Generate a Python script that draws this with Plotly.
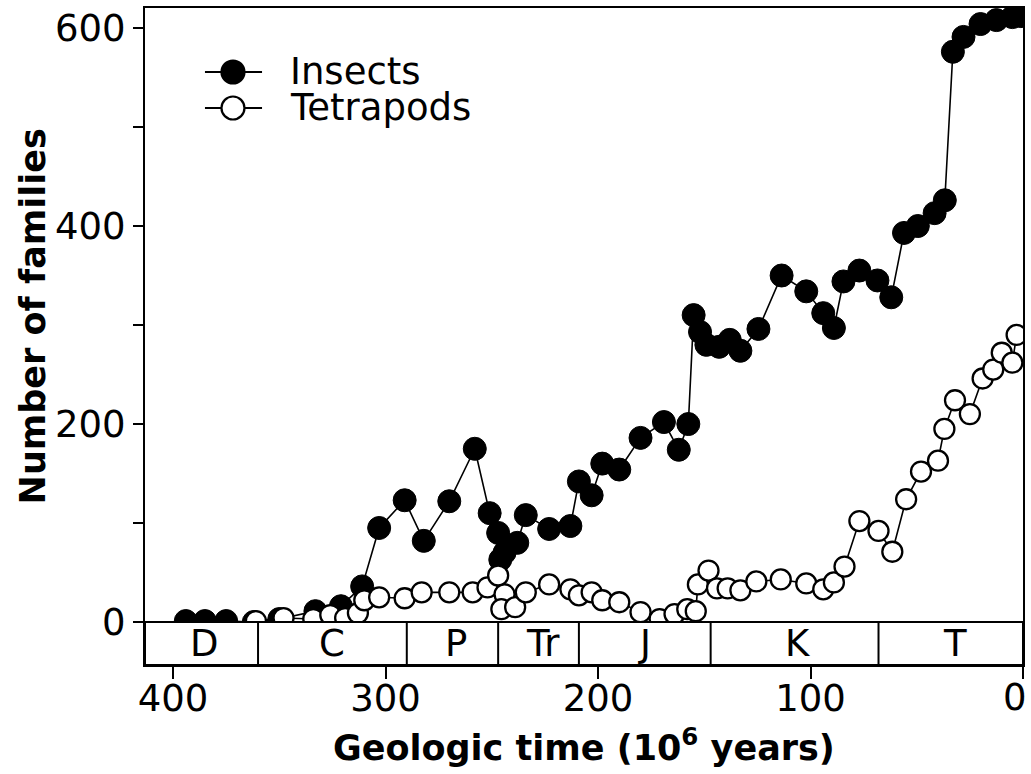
import plotly.graph_objects as go

# Insect families through time (age in millions of years before present)
insect_age = [394, 385, 375, 362, 350, 333, 321, 311, 303, 291, 282, 270, 258,
              251, 247, 246, 244, 238, 234, 223, 213, 209, 203, 198, 190, 180,
              169, 162, 157.5, 155, 152, 149, 143, 138, 133, 124.5, 113.6, 102,
              94, 89, 84.5, 77, 68.5, 62, 56, 49.5, 41.6, 36.8, 33, 28, 20, 12.5,
              5, 1]
insect_fam = [1, 1, 1, 0, 3, 11, 16, 36, 95, 123, 82, 122, 175,
              110, 90, 63, 70, 80, 108, 94, 97, 142, 128, 160, 154, 186,
              202, 174, 200, 310, 293, 280, 278, 285, 274, 296, 350, 334,
              312, 297, 344, 355, 345, 328, 393, 400, 413, 426, 576, 591, 604, 608,
              611, 612]

# Tetrapod families through time
tetra_age = [361, 348, 334, 326, 319, 313, 310, 303, 291, 283, 270, 259, 252,
             247, 244, 245.5, 239, 234, 223, 213, 209, 203, 198, 190, 180, 171,
             164, 158, 154, 153, 148, 144, 139, 133, 125.5, 114, 102, 94, 89, 84,
             77, 68, 61.5, 55, 48, 40, 37, 32, 25, 19, 14, 10, 5, 3]
tetra_fam = [1, 4, 3, 7, 4, 9, 22, 25, 24, 30, 30, 30, 35,
             47, 28, 13, 15, 30, 38, 33, 27, 30, 22, 20, 10, 3,
             8, 13, 11, 38, 52, 34, 34, 32, 41, 43, 39, 33, 40, 56,
             102, 92, 71, 124, 152, 163, 195, 224, 210, 246, 255, 272, 262, 290]

# Geologic periods: boundaries (Myr) and label positions
period_bounds = [360, 290, 247, 209, 147, 68]
period_names = ["D", "C", "P", "Tr", "J", "K", "T"]
period_mid = [385, 325, 267, 226, 178, 106, 32]

y_ticks = [0, 200, 400, 600]
x_ticks = [400, 300, 200, 100, 0]
x_tick_text = ["400", "300", "200", "100", ""]  # "0" is placed flush with the edge below

FONT = "DejaVu Sans"
X_RANGE = [413.2, 0]
Y_RANGE = [-43.4, 620.2]
BAR_BOTTOM = Y_RANGE[0]

fig = go.Figure()

fig.add_trace(go.Scatter(
    x=insect_age, y=insect_fam, mode="lines+markers", name="Insects",
    line=dict(color="black", width=1.6),
    marker=dict(symbol="circle", size=23, color="black",
                line=dict(color="black", width=1)),
    showlegend=False,
))
fig.add_trace(go.Scatter(
    x=tetra_age, y=tetra_fam, mode="lines+markers", name="Tetrapods",
    line=dict(color="black", width=1.6),
    marker=dict(symbol="circle", size=20, color="white",
                line=dict(color="black", width=2.3)),
    showlegend=False,
))

shapes = []
# period strip along the bottom, drawn over the markers
shapes.append(dict(type="rect", xref="x", yref="y", x0=X_RANGE[0], x1=X_RANGE[1],
                   y0=BAR_BOTTOM, y1=0, fillcolor="white",
                   line=dict(color="black", width=2), layer="above"))
for b in period_bounds:
    shapes.append(dict(type="line", xref="x", yref="y", x0=b, x1=b,
                       y0=BAR_BOTTOM, y1=0, line=dict(color="black", width=2),
                       layer="above"))

annotations = []
for name, mid in zip(period_names, period_mid):
    annotations.append(dict(x=mid, y=BAR_BOTTOM / 2, xref="x", yref="y",
                            text=name, showarrow=False,
                            font=dict(family=FONT, size=37, color="black")))

# right-most x tick label, kept inside the page
annotations.append(dict(x=x_ticks[-1], y=-0.050, xref="x", yref="paper",
                        xanchor="right", yanchor="middle", xshift=6,
                        text="0", showarrow=False,
                        font=dict(family=FONT, size=37, color="black")))

# legend keys
legend_rows = [("Insects", "black", 0.9026), ("Tetrapods", "white", 0.8478)]
for label, fill, ly in legend_rows:
    shapes.append(dict(type="line", xref="paper", yref="paper",
                       x0=0.0683, x1=0.1333, y0=ly, y1=ly,
                       line=dict(color="black", width=1.8)))
    shapes.append(dict(type="circle", xref="paper", yref="paper",
                       xsizemode="pixel", ysizemode="pixel",
                       xanchor=0.1002, yanchor=ly,
                       x0=-11.5, x1=11.5, y0=-11.5, y1=11.5,
                       fillcolor=fill, line=dict(color="black", width=2.2)))
    annotations.append(dict(x=0.163, y=ly, xref="paper", yref="paper",
                            xanchor="left", yanchor="middle", text=label,
                            showarrow=False,
                            font=dict(family=FONT, size=37, color="black")))

# axis titles
annotations.append(dict(x=0.5, y=-0.084, xref="paper", yref="paper",
                        xanchor="center", yanchor="top",
                        text="<b>Geologic time (10<sup>6</sup> years)</b>",
                        showarrow=False,
                        font=dict(family=FONT, size=35, color="black")))
annotations.append(dict(x=-0.128, y=0.53, xref="paper", yref="paper",
                        xanchor="center", yanchor="middle", textangle=-90,
                        text="<b>Number of families</b>", showarrow=False,
                        font=dict(family=FONT, size=35, color="black")))

fig.update_layout(
    width=1031, height=774,
    margin=dict(l=145, r=8, t=8, b=109),
    paper_bgcolor="white", plot_bgcolor="white",
    shapes=shapes, annotations=annotations,
    font=dict(family=FONT, size=37, color="black"),
    xaxis=dict(range=X_RANGE, tickvals=x_ticks, ticktext=x_tick_text,
               ticks="outside", ticklen=12,
               tickwidth=2, tickcolor="black", showline=True, linecolor="black",
               linewidth=2, mirror=True, showgrid=False, zeroline=False,
               automargin=False, ticklabelstandoff=-12,
               tickfont=dict(family=FONT, size=37, color="black")),
    yaxis=dict(range=Y_RANGE, tickvals=y_ticks,
               ticks="outside", ticklen=10, tickwidth=2, tickcolor="black",
               minor=dict(dtick=100, tick0=0, ticks="outside", ticklen=10,
                          tickwidth=2, tickcolor="black", showgrid=False),
               showline=True, linecolor="black", linewidth=2, mirror=True,
               showgrid=False, zeroline=False, automargin=False,
               tickfont=dict(family=FONT, size=37, color="black")),
)

fig.write_html("out.html")
